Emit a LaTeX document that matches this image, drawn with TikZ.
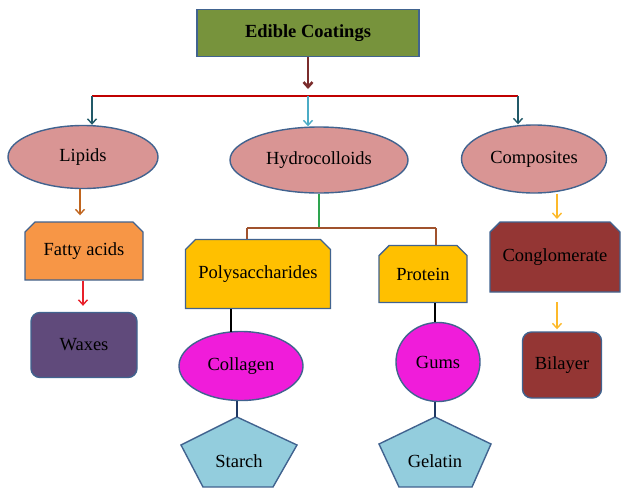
\documentclass[tikz,border=0pt]{standalone}
\usepackage{fontspec}
\setmainfont{Liberation Serif}
\usetikzlibrary{shapes.geometric,shapes.misc,arrows.meta}

\definecolor{coatgreen}{HTML}{77933C}
\definecolor{edgeblue}{HTML}{41638F}
\definecolor{pinkfill}{HTML}{D99594}
\definecolor{orangefill}{HTML}{F79646}
\definecolor{purplefill}{HTML}{604A7B}
\definecolor{goldfill}{HTML}{FFC000}
\definecolor{magentafill}{HTML}{F01CDA}
\definecolor{skyfill}{HTML}{93CDDD}
\definecolor{brickfill}{HTML}{943634}
\definecolor{darkred}{HTML}{7B2C2C}
\definecolor{barred}{HTML}{C00000}
\definecolor{darkteal}{HTML}{215968}
\definecolor{lightteal}{HTML}{4BACC6}
\definecolor{rust}{HTML}{C0651E}
\definecolor{brightred}{HTML}{E8202A}
\definecolor{amber}{HTML}{FDB92A}
\definecolor{forkgreen}{HTML}{2EA44F}
\definecolor{forkbrown}{HTML}{A0522D}
\definecolor{navy}{HTML}{1F3864}

\begin{document}
\begin{tikzpicture}[%
    x=1pt, y=-1pt,
    font=\fontsize{18.5}{21}\selectfont,
    base/.style={%
        draw=edgeblue,
        line width=1.4pt,
        inner sep=0pt,
        align=center
    },
    titlebox/.style={%
        base,
        rectangle,
        fill=coatgreen,
        font=\fontsize{18.5}{21}\selectfont\bfseries
    },
    group/.style={%
        base,
        ellipse,
        fill=pinkfill
    },
    cutbox/.style={%
        base,
        chamfered rectangle,
        chamfered rectangle corners={north east,north west},
        chamfered rectangle sep=5pt
    },
    roundbox/.style={%
        base,
        rectangle,
        rounded corners=9pt
    },
    blob/.style={%
        base,
        ellipse,
        fill=magentafill
    },
    penta/.style={%
        draw=edgeblue,
        line width=1.4pt,
        fill=skyfill
    },
    link/.style={%
        line width=1.4pt
    },
    >={Straight Barb[length=5pt,width=9pt]}
]

\useasboundingbox (0,0) rectangle (621,488);

% Top
\node[titlebox, minimum width=222pt, minimum height=47pt] (coat) at (308,33) {Edible Coatings};

% Groups
\node[group, minimum width=150pt, minimum height=63pt] (lipids) at (83,157) {Lipids};
\node[group, minimum width=178pt, minimum height=66pt] (hydro) at (319,160) {Hydrocolloids};
\node[group, minimum width=145pt, minimum height=68pt] (comp) at (534,159) {Composites};

% Lipids branch
\node[cutbox, fill=orangefill, minimum width=118pt, minimum height=58pt] (fatty) at (84,251) {Fatty acids};
\node[roundbox, fill=purplefill, minimum width=106pt, minimum height=65pt] (waxes) at (84,345) {Waxes};

% Hydrocolloids branch
\node[cutbox, fill=goldfill, minimum width=145pt, minimum height=69pt] (poly) at (258,274) {Polysaccharides};
\node[cutbox, fill=goldfill, minimum width=88pt, minimum height=57pt] (prot) at (423,274) {Protein};
\node[blob, minimum width=124pt, minimum height=69pt] (coll) at (241,366) {Collagen};
\node[blob, minimum width=84pt, minimum height=79pt] (gums) at (438,362) {Gums};

% Pentagons
\coordinate (starchtop) at (237,417);
\coordinate (gelatintop) at (435,417);
\draw[penta] (starchtop) -- (297,445) -- (273,487) -- (203,487) -- (181,445) -- cycle;
\draw[penta] (gelatintop) -- (491,444) -- (472,487) -- (399,487) -- (379,444) -- cycle;
\node (starch) at (239,461) {Starch};
\node (gelatin) at (435,461) {Gelatin};

% Composites branch
\node[cutbox, fill=brickfill, minimum width=130pt, minimum height=70pt] (cong) at (555,257) {Conglomerate};
\node[roundbox, fill=brickfill, minimum width=79pt, minimum height=66pt] (bil) at (562,365) {Bilayer};

% Bar
\coordinate (barL) at (92,96);
\coordinate (barM) at (308,96);
\coordinate (barR) at (518,96);
\coordinate (forkL) at (247,228);
\coordinate (forkM) at (319,228);
\coordinate (forkR) at (436,228);

% Arrows
\draw[->, darkred, line width=2.6pt, shorten >=7pt] (coat) -- (barM);
\draw[barred, link] (barL) -- (barR);
\draw[->, darkteal, link] (barL) -- (barL |- lipids.north);
\draw[->, lightteal, link] (barM) -- (barM |- hydro.north);
\draw[->, darkteal, link] (barR) -- (barR |- comp.north);

\draw[->, rust, link, shorten >=6pt] ([xshift=-3pt]lipids.south) -- ([xshift=-4pt]fatty.north);
\draw[->, brightred, link, shorten >=6pt] ([xshift=-1pt]fatty.south) -- ([xshift=-1pt]waxes.north);

\draw[->, amber, link, shorten >=3pt] (comp.south -| 557,0) -- (557,222);
\draw[->, amber, link, shorten <=10pt, shorten >=2pt] (557,292) -- (bil.north -| 557,0);

% Fork
\draw[forkgreen, link] (hydro.south) -- (forkM);
\draw[forkbrown, link] (forkL) -- (forkR);
\draw[forkbrown, link] (forkL) -- (forkL |- poly.north);
\draw[forkbrown, link] (forkR) -- (forkR |- prot.north);

% Links
\draw[link] (poly.south -| 231,0) -- (231,332);
\draw[navy, link] (coll.south -| 237,0) -- (starchtop);
\draw[link] (prot.south -| 435,0) -- (gums.north -| 435,0);
\draw[navy, link] (gums.south -| 435,0) -- (gelatintop);

\end{tikzpicture}
\end{document}
